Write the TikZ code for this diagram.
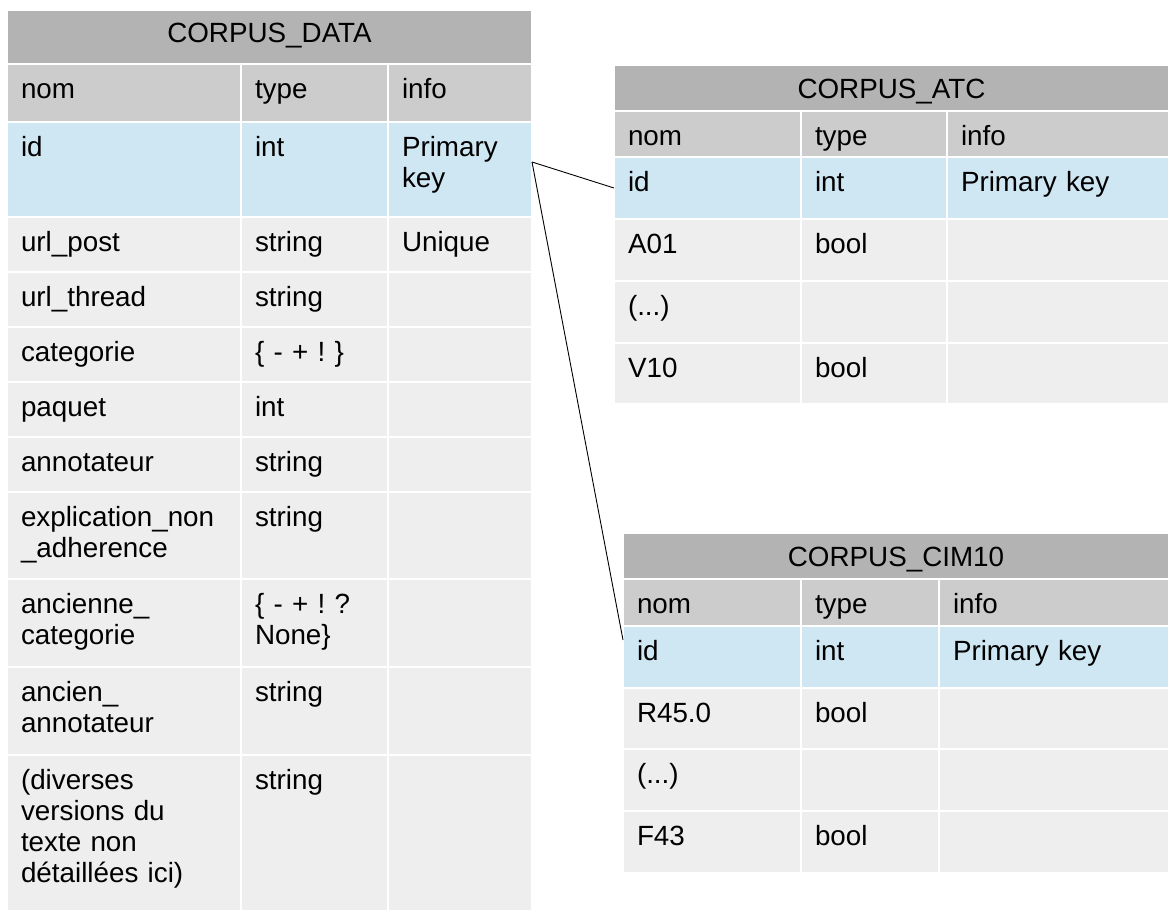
\documentclass[tikz,border=0pt]{standalone}
\usepackage{fontspec}
\setmainfont{Liberation Sans}
\usepackage{tikz}
\usetikzlibrary{positioning,calc}
\definecolor{TitleGray}{RGB}{179,179,179}
\definecolor{HeadGray}{RGB}{204,204,204}
\definecolor{KeyBlue}{RGB}{207,230,243}
\definecolor{BodyGray}{RGB}{238,238,238}
\tikzset{
  cell/.style={anchor=north west, inner xsep=14pt, inner ysep=0pt, outer sep=0pt,
               align=left, draw=white, line width=2pt, text=black,
               font=\fontsize{27.8pt}{31pt}\selectfont\frenchspacing, text height=34pt},
  titlecell/.style={cell, fill=TitleGray, align=center, text height=33pt},
  fkline/.style={draw=black, line width=0.9pt}
}

\begin{document}
\begin{tikzpicture}[x=1pt, y=-1pt]
  \useasboundingbox (0,0) rectangle (1169,911);

  % CORPUS_DATA
  \node[titlecell, text width=497pt, text height=32pt, text depth=22pt] (data) at (7,10) {CORPUS\_DATA};
  \foreach \nom/\typ/\inf/\y/\h/\col [count=\r] in {
      nom/type/info/64/58/HeadGray,
      id/int/{Primary\\key}/122/95/KeyBlue,
      url\_post/string/Unique/217/55/BodyGray,
      url\_thread/string/{}/272/55/BodyGray,
      categorie/{\{ - + ! \}}/{}/327/55/BodyGray,
      paquet/int/{}/382/55/BodyGray,
      annotateur/string/{}/437/55/BodyGray,
      {explication\_non\\\_adherence}/string/{}/492/87/BodyGray,
      {ancienne\_\\categorie}/{\{ - + ! ?\\None\}}/{}/579/88/BodyGray,
      {ancien\_\\annotateur}/string/{}/667/88/BodyGray,
      {(diverses\\versions du\\texte non\\détaillées ici)}/string/{}/755/156/BodyGray}{
    \pgfmathsetmacro\dep{\h-34}
    \node[cell, fill=\col, text width=206pt, text depth=\dep pt] (data-\r-1) at (7,\y) {\nom};
    \node[cell, fill=\col, text width=119pt, text depth=\dep pt] (data-\r-2) at (241,\y) {\typ};
    \node[cell, fill=\col, text width=116pt, text depth=\dep pt] (data-\r-3) at (388,\y) {\inf};
  }

  % CORPUS_ATC
  \node[titlecell, text width=527pt, text depth=13pt] (atc) at (614,65) {CORPUS\_ATC};
  \foreach \nom/\typ/\inf/\y/\h/\col [count=\r] in {
      nom/type/info/111/46/HeadGray,
      id/int/Primary key/157/62/KeyBlue,
      A01/bool/{}/219/62/BodyGray,
      {(...)}/{}/{}/281/62/BodyGray,
      V10/bool/{}/343/61/BodyGray}{
    \pgfmathsetmacro\dep{\h-34}
    \node[cell, fill=\col, text width=159pt, text depth=\dep pt] (atc-\r-1) at (614,\y) {\nom};
    \node[cell, fill=\col, text width=118pt, text depth=\dep pt] (atc-\r-2) at (801,\y) {\typ};
    \node[cell, fill=\col, text width=194pt, text depth=\dep pt] (atc-\r-3) at (947,\y) {\inf};
  }

  % CORPUS_CIM10
  \node[titlecell, text width=518pt, text depth=13pt] (cim) at (623,533) {CORPUS\_CIM10};
  \foreach \nom/\typ/\inf/\y/\h/\col [count=\r] in {
      nom/type/info/579/47/HeadGray,
      id/int/Primary key/626/62/KeyBlue,
      R45.0/bool/{}/688/61/BodyGray,
      {(...)}/{}/{}/749/62/BodyGray,
      F43/bool/{}/811/62/BodyGray}{
    \pgfmathsetmacro\dep{\h-34}
    \node[cell, fill=\col, text width=150pt, text depth=\dep pt] (cim-\r-1) at (623,\y) {\nom};
    \node[cell, fill=\col, text width=110pt, text depth=\dep pt] (cim-\r-2) at (801,\y) {\typ};
    \node[cell, fill=\col, text width=202pt, text depth=\dep pt] (cim-\r-3) at (939,\y) {\inf};
  }

  % foreign keys
  \coordinate (fk) at ([yshift=7.5pt]data-2-3.east);
  \draw[fkline] (fk) -- (atc-2-1.west);
  \draw[fkline] (fk) -- ([yshift=17pt]cim-2-1.west);
\end{tikzpicture}
\end{document}
